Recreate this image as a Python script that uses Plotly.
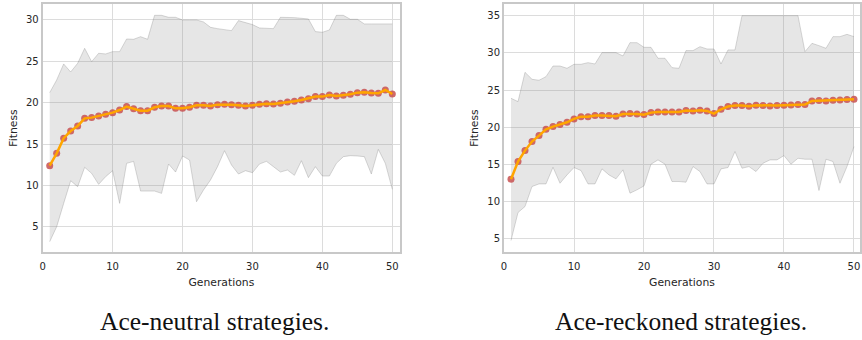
import plotly.graph_objects as go

generations = list(range(1, 51))

# Ace-neutral strategies
neutral_mean = [12.38, 13.87, 15.7, 16.57, 17.18, 18.1, 18.19, 18.4, 18.6, 18.79,
                19.11, 19.52, 19.27, 19.03, 19.03, 19.44, 19.6, 19.6, 19.31, 19.31,
                19.44, 19.68, 19.68, 19.6, 19.76, 19.8, 19.76, 19.68, 19.6, 19.68,
                19.8, 19.88, 19.84, 19.92, 20.08, 20.16, 20.32, 20.48, 20.73, 20.73,
                20.93, 20.81, 20.89, 21.01, 21.21, 21.25, 21.17, 21.13, 21.53, 21.05]
neutral_upper = [21.21, 22.74, 24.68, 23.71, 24.76, 26.57, 24.96, 25.97, 25.89, 26.17,
                 26.17, 27.7, 27.66, 27.98, 27.66, 30.56, 30.56, 30.32, 30.32, 30.0,
                 30.0, 30.0, 29.76, 29.11, 28.95, 28.79, 28.71, 29.92, 29.68, 29.44,
                 29.03, 28.95, 28.95, 30.32, 30.32, 30.28, 30.2, 30.12, 28.59, 28.51,
                 28.79, 30.56, 30.56, 30.08, 30.08, 29.52, 29.52, 29.52, 29.52, 29.52]
neutral_lower = [3.19, 5.0, 7.82, 10.56, 9.84, 12.18, 11.45, 10.12, 11.05, 11.77,
                 7.82, 12.66, 12.9, 9.31, 9.31, 9.31, 9.03, 12.58, 11.61, 13.55,
                 13.06, 8.02, 9.44, 10.65, 12.26, 14.19, 12.46, 11.37, 11.77, 11.53,
                 12.58, 12.9, 12.26, 11.61, 11.85, 11.21, 12.98, 10.93, 12.26, 11.13,
                 11.13, 12.66, 13.47, 13.59, 13.55, 13.47, 11.37, 14.35, 12.66, 9.52]

# Ace-reckoned strategies
reckoned_mean = [13.0, 15.38, 16.85, 18.06, 18.87, 19.72, 20.08, 20.35, 20.66, 21.11,
                 21.42, 21.42, 21.56, 21.56, 21.56, 21.47, 21.78, 21.83, 21.78, 21.69,
                 21.96, 22.05, 22.05, 22.05, 22.05, 22.23, 22.19, 22.28, 22.19, 21.83,
                 22.41, 22.77, 22.9, 22.9, 22.81, 22.95, 22.9, 22.86, 22.9, 22.95,
                 22.99, 23.04, 23.04, 23.53, 23.58, 23.53, 23.62, 23.66, 23.71, 23.75]
reckoned_upper = [23.89, 23.44, 27.38, 26.44, 26.31, 26.8, 28.23, 28.23, 27.92, 28.46,
                  28.46, 28.68, 28.5, 30.03, 30.03, 30.03, 29.58, 31.37, 31.37, 30.74,
                  30.74, 29.27, 29.27, 28.01, 27.92, 30.3, 30.3, 30.83, 30.52, 30.52,
                  28.5, 30.39, 30.39, 35.0, 35.0, 35.0, 35.0, 35.0, 35.0, 35.0,
                  35.0, 35.0, 30.16, 31.28, 30.97, 30.61, 32.18, 32.18, 32.49, 32.18]
reckoned_lower = [4.76, 8.52, 9.33, 12.02, 12.37, 12.37, 14.61, 12.46, 13.58, 14.57,
                  14.17, 12.37, 12.37, 14.39, 13.58, 13.05, 14.26, 11.12, 11.57, 12.1,
                  15.02, 15.6, 15.02, 12.69, 12.69, 12.6, 14.7, 14.03, 12.37, 12.37,
                  14.39, 14.57, 16.72, 14.48, 14.7, 14.03, 15.15, 15.6, 15.6, 16.18,
                  15.02, 15.82, 15.69, 15.69, 11.48, 15.69, 15.38, 12.46, 14.7, 17.39]

x_ticks = [0, 10, 20, 30, 40, 50]
left_y_ticks = [5, 10, 15, 20, 25, 30]
right_y_ticks = [5, 10, 15, 20, 25, 30, 35]
captions = ["Ace-neutral strategies.", "Ace-reckoned strategies."]

W, H = 862, 340
FILL = "rgba(128,128,128,0.2)"
EDGE = "rgba(128,128,128,0.3)"

fig = go.Figure()

def add_panel(xa, ya, mean, lower, upper):
    fig.add_trace(go.Scatter(x=generations, y=lower, mode="lines",
                             line=dict(color=EDGE, width=1), xaxis=xa, yaxis=ya,
                             showlegend=False, hoverinfo="skip"))
    fig.add_trace(go.Scatter(x=generations, y=upper, mode="lines", fill="tonexty",
                             fillcolor=FILL, line=dict(color=EDGE, width=1),
                             xaxis=xa, yaxis=ya, showlegend=False, hoverinfo="skip"))
    fig.add_trace(go.Scatter(x=generations, y=mean, mode="markers",
                             marker=dict(color="rgba(200,80,80,0.85)", size=7, line=dict(width=0)),
                             xaxis=xa, yaxis=ya, showlegend=False))
    fig.add_trace(go.Scatter(x=generations, y=mean, mode="lines",
                             line=dict(color="#FFA500", width=2.5),
                             xaxis=xa, yaxis=ya, showlegend=False))

add_panel("x", "y", neutral_mean, neutral_lower, neutral_upper)
add_panel("x2", "y2", reckoned_mean, reckoned_lower, reckoned_upper)

tickfont = dict(family="DejaVu Sans", size=10, color="#262626")
titlefont = dict(family="DejaVu Sans", size=10.8, color="#262626")
ax_common = dict(showline=True, linecolor="#c8c8c8", linewidth=2, mirror=True,
                 showgrid=True, gridcolor="#dcdcdc", gridwidth=1, zeroline=False,
                 ticks="", tickfont=tickfont, title_font=titlefont, automargin=False)

ytop = 1 - 4 / H
ybot = 1 - 252 / H

fig.update_layout(
    width=W, height=H,
    margin=dict(l=0, r=0, t=0, b=0, autoexpand=False),
    paper_bgcolor="white", plot_bgcolor="white",
    xaxis=dict(domain=[42.7 / W, 400 / W], range=[0, 51.1], tickvals=x_ticks,
               ticklabelstandoff=4,
               title=dict(text="Generations", standoff=7), anchor="y", **ax_common),
    yaxis=dict(domain=[ybot, ytop], range=[1.94, 31.93], tickvals=left_y_ticks,
               title=dict(text="Fitness", standoff=6), anchor="x", **ax_common),
    xaxis2=dict(domain=[504 / W, 860 / W], range=[0, 50.86], tickvals=x_ticks,
                ticklabelstandoff=4,
                title=dict(text="Generations", standoff=7), anchor="y2", **ax_common),
    yaxis2=dict(domain=[ybot, ytop], range=[3.21, 36.57], tickvals=right_y_ticks,
                title=dict(text="Fitness", standoff=6), anchor="x2", **ax_common),
    annotations=[
        dict(text=captions[0], x=214 / W, y=1 - 321.5 / H, xref="paper", yref="paper",
             xanchor="center", yanchor="middle", showarrow=False,
             font=dict(family="Liberation Serif", size=25.5, color="#111111")),
        dict(text=captions[1], x=680.5 / W, y=1 - 321.5 / H, xref="paper", yref="paper",
             xanchor="center", yanchor="middle", showarrow=False,
             font=dict(family="Liberation Serif", size=25.5, color="#111111")),
    ],
)

fig.write_html("out.html", config={"displayModeBar": False},
               post_script="document.body.style.margin='0';document.body.style.overflow='hidden';")
